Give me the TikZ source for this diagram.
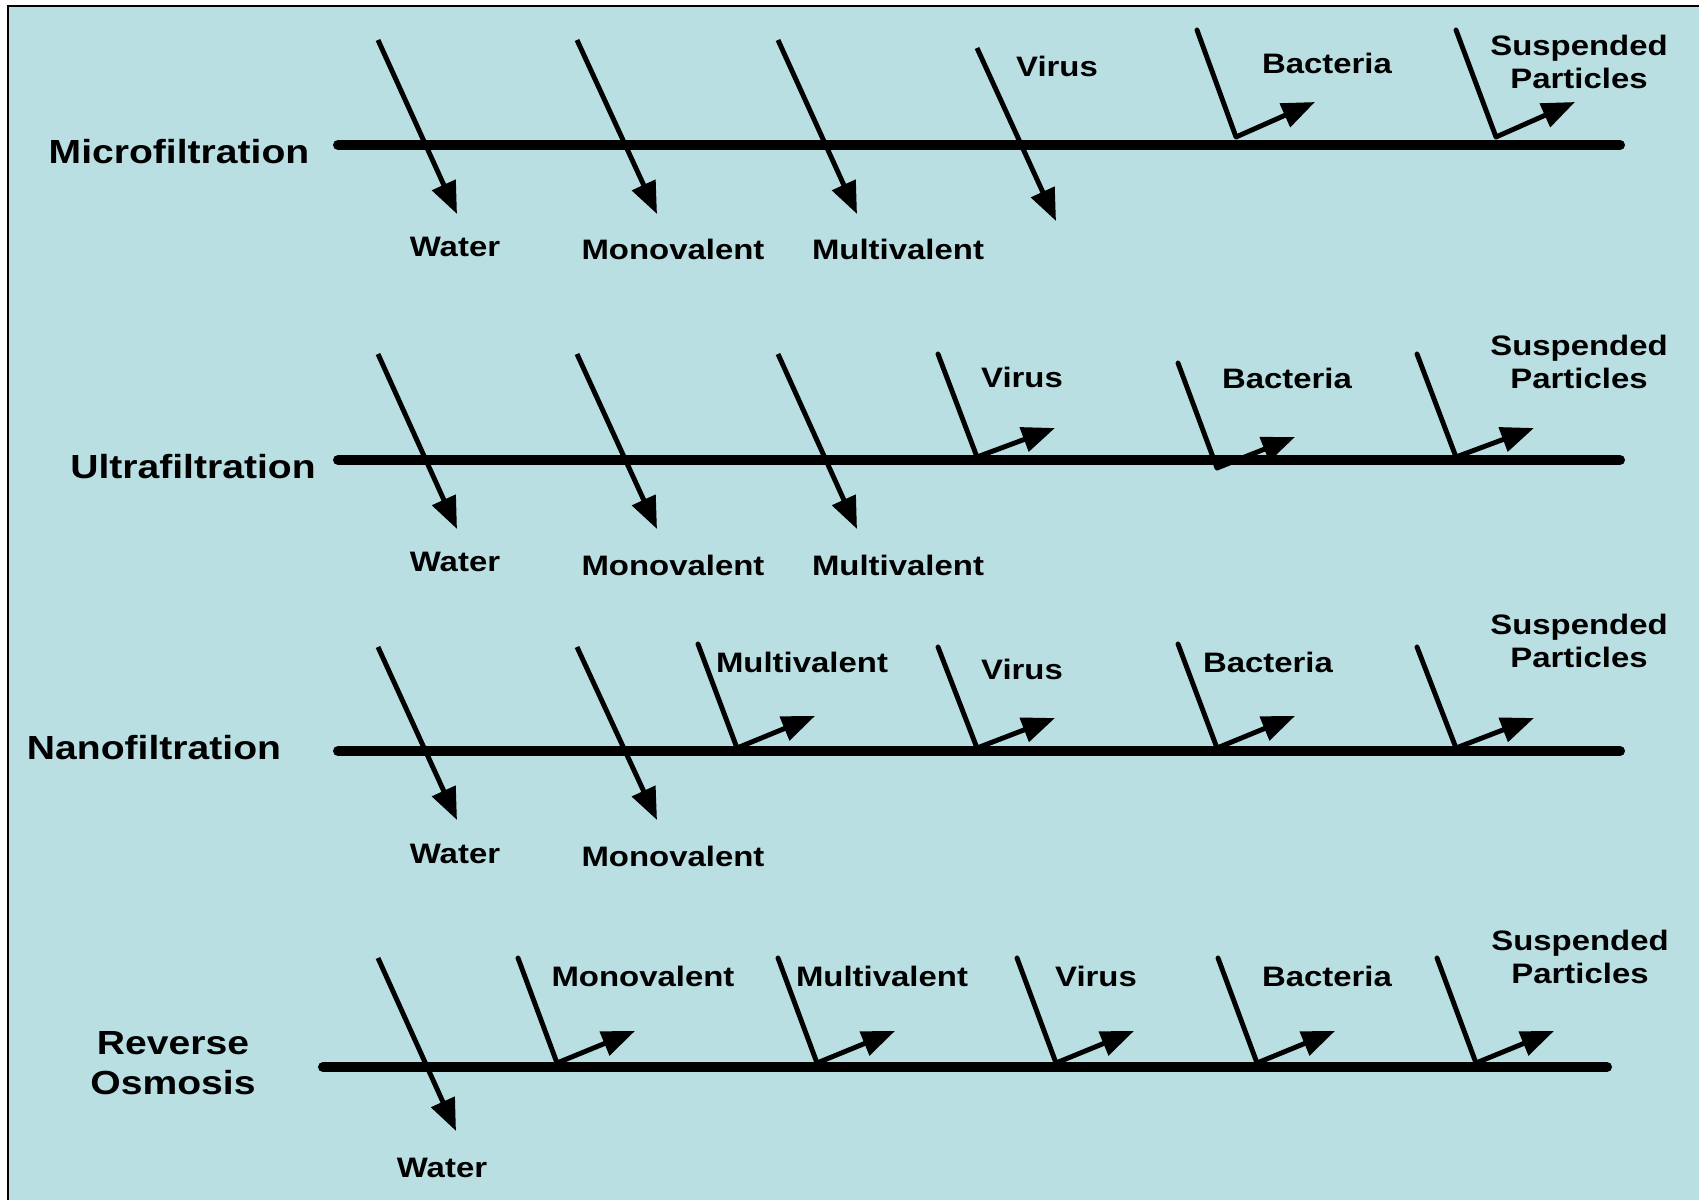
\documentclass[tikz,border=0pt]{standalone}
\usepackage{fontspec}
\setmainfont{Liberation Sans}
\newfontfamily\widesans{Liberation Sans}[FakeStretch=1.17]
\usetikzlibrary{arrows.meta}
\definecolor{tankblue}{RGB}{186,223,227}
\tikzset{
    rowlbl/.style={font=\widesans\fontsize{9.5}{11.4}\selectfont\bfseries, align=center, inner sep=0pt},
    partlbl/.style={font=\widesans\fontsize{8}{9.4}\selectfont\bfseries, align=center, inner sep=0pt},
    membrane/.style={line width=2.85pt, line cap=round},
    passarr/.style={-{Triangle[length=0.32cm, width=0.25cm]}, line width=1.4pt},
    rejline/.style={line width=1.4pt, line cap=round},
    rejarr/.style={-{Triangle[length=0.33cm, width=0.25cm]}, line width=1.4pt}
}
\begin{document}
\begin{tikzpicture}[x=0.01cm, y=-0.01cm]
    \useasboundingbox (0,0) rectangle (1699,1200);
    % background panel, open at right and bottom
    \fill[tankblue] (8,6) rectangle (1699,1200);
    \draw[line width=0.6pt] (8,1200) -- (8,6) -- (1699,6);

    % === Microfiltration ===
    \node[rowlbl] (mfl) at (179,152) {Microfiltration};
    \coordinate (mfa) at (338,145);
    \coordinate (mfb) at (1620,145);
    \draw[membrane] (mfa) -- (mfb);
    \coordinate (mfw1) at (378,40);   \coordinate (mfw2) at (457,214);
    \coordinate (mfm1) at (577,40);   \coordinate (mfm2) at (657,214);
    \coordinate (mfu1) at (778,40);   \coordinate (mfu2) at (857,214);
    \coordinate (mfv1) at (977,48);   \coordinate (mfv2) at (1056,221);
    \draw[passarr] (mfw1) -- (mfw2);
    \draw[passarr] (mfm1) -- (mfm2);
    \draw[passarr] (mfu1) -- (mfu2);
    \draw[passarr] (mfv1) -- (mfv2);
    \coordinate (mfb1) at (1197,30);  \coordinate (mfb2) at (1236,137);  \coordinate (mfb3) at (1315,102);
    \coordinate (mfs1) at (1456,30);  \coordinate (mfs2) at (1496,137);  \coordinate (mfs3) at (1575,102);
    \draw[rejline] (mfb1) -- (mfb2);  \draw[rejarr] (mfb2) -- (mfb3);
    \draw[rejline] (mfs1) -- (mfs2);  \draw[rejarr] (mfs2) -- (mfs3);
    \node[partlbl] (mfwl) at (455,247) {Water};
    \node[partlbl] (mfml) at (673,249) {Monovalent};
    \node[partlbl] (mful) at (898,249) {Multivalent};
    \node[partlbl] (mfvl) at (1057,66) {Virus};
    \node[partlbl] (mfbl) at (1327,63) {Bacteria};
    \node[partlbl] (mfsl) at (1579,62) {Suspended\\Particles};

    % === Ultrafiltration ===
    \node[rowlbl] (ufl) at (193,467) {Ultrafiltration};
    \coordinate (ufa) at (338,460);
    \coordinate (ufb) at (1620,460);
    \draw[membrane] (ufa) -- (ufb);
    \coordinate (ufw1) at (378,354);  \coordinate (ufw2) at (457,529);
    \coordinate (ufm1) at (577,354);  \coordinate (ufm2) at (657,529);
    \coordinate (ufu1) at (778,354);  \coordinate (ufu2) at (857,529);
    \draw[passarr] (ufw1) -- (ufw2);
    \draw[passarr] (ufm1) -- (ufm2);
    \draw[passarr] (ufu1) -- (ufu2);
    \coordinate (ufv1) at (938,354);  \coordinate (ufv2) at (977,457);  \coordinate (ufv3) at (1055,428);
    \coordinate (ufb1) at (1178,363); \coordinate (ufb2) at (1217,468); \coordinate (ufb3) at (1295,437);
    \coordinate (ufs1) at (1417,354); \coordinate (ufs2) at (1456,457); \coordinate (ufs3) at (1534,428);
    \draw[rejline] (ufv1) -- (ufv2);  \draw[rejarr] (ufv2) -- (ufv3);
    \draw[rejline] (ufb1) -- (ufb2);  \draw[rejarr] (ufb2) -- (ufb3);
    \draw[rejline] (ufs1) -- (ufs2);  \draw[rejarr] (ufs2) -- (ufs3);
    \node[partlbl] (ufwl) at (455,562) {Water};
    \node[partlbl] (ufml) at (673,565) {Monovalent};
    \node[partlbl] (uful) at (898,565) {Multivalent};
    \node[partlbl] (ufvl) at (1022,377) {Virus};
    \node[partlbl] (ufbl) at (1287,378) {Bacteria};
    \node[partlbl] (ufsl) at (1579,362) {Suspended\\Particles};

    % === Nanofiltration ===
    \node[rowlbl] (nfl) at (154,748) {Nanofiltration};
    \coordinate (nfa) at (338,751);
    \coordinate (nfb) at (1620,751);
    \draw[membrane] (nfa) -- (nfb);
    \coordinate (nfw1) at (378,647);  \coordinate (nfw2) at (457,820);
    \coordinate (nfm1) at (577,647);  \coordinate (nfm2) at (657,820);
    \draw[passarr] (nfw1) -- (nfw2);
    \draw[passarr] (nfm1) -- (nfm2);
    \coordinate (nfu1) at (698,644);  \coordinate (nfu2) at (737,748);  \coordinate (nfu3) at (815,716);
    \coordinate (nfv1) at (938,647);  \coordinate (nfv2) at (977,748);  \coordinate (nfv3) at (1055,718);
    \coordinate (nfb1) at (1178,644); \coordinate (nfb2) at (1217,748); \coordinate (nfb3) at (1295,716);
    \coordinate (nfs1) at (1417,647); \coordinate (nfs2) at (1456,748); \coordinate (nfs3) at (1534,718);
    \draw[rejline] (nfu1) -- (nfu2);  \draw[rejarr] (nfu2) -- (nfu3);
    \draw[rejline] (nfv1) -- (nfv2);  \draw[rejarr] (nfv2) -- (nfv3);
    \draw[rejline] (nfb1) -- (nfb2);  \draw[rejarr] (nfb2) -- (nfb3);
    \draw[rejline] (nfs1) -- (nfs2);  \draw[rejarr] (nfs2) -- (nfs3);
    \node[partlbl] (nfwl) at (455,854) {Water};
    \node[partlbl] (nfml) at (673,856) {Monovalent};
    \node[partlbl] (nful) at (802,662) {Multivalent};
    \node[partlbl] (nfvl) at (1022,669) {Virus};
    \node[partlbl] (nfbl) at (1268,662) {Bacteria};
    \node[partlbl] (nfsl) at (1579,641) {Suspended\\Particles};

    % === Reverse Osmosis ===
    \node[rowlbl] (rol) at (173,1063) {Reverse\\Osmosis};
    \coordinate (roa) at (323,1067);
    \coordinate (rob) at (1607,1067);
    \draw[membrane] (roa) -- (rob);
    \coordinate (row1) at (378,958);  \coordinate (row2) at (456,1131);
    \draw[passarr] (row1) -- (row2);
    \coordinate (rom1) at (518,958);  \coordinate (rom2) at (557,1063);  \coordinate (rom3) at (635,1031);
    \coordinate (rou1) at (778,958);  \coordinate (rou2) at (817,1063);  \coordinate (rou3) at (895,1031);
    \coordinate (rov1) at (1017,958); \coordinate (rov2) at (1056,1063); \coordinate (rov3) at (1134,1031);
    \coordinate (rob1) at (1218,958); \coordinate (rob2) at (1257,1063); \coordinate (rob3) at (1335,1031);
    \coordinate (ros1) at (1437,958); \coordinate (ros2) at (1476,1063); \coordinate (ros3) at (1554,1031);
    \draw[rejline] (rom1) -- (rom2);  \draw[rejarr] (rom2) -- (rom3);
    \draw[rejline] (rou1) -- (rou2);  \draw[rejarr] (rou2) -- (rou3);
    \draw[rejline] (rov1) -- (rov2);  \draw[rejarr] (rov2) -- (rov3);
    \draw[rejline] (rob1) -- (rob2);  \draw[rejarr] (rob2) -- (rob3);
    \draw[rejline] (ros1) -- (ros2);  \draw[rejarr] (ros2) -- (ros3);
    \node[partlbl] (rowl) at (442,1168) {Water};
    \node[partlbl] (roml) at (643,976) {Monovalent};
    \node[partlbl] (roul) at (882,976) {Multivalent};
    \node[partlbl] (rovl) at (1096,976) {Virus};
    \node[partlbl] (robl) at (1327,976) {Bacteria};
    \node[partlbl] (rosl) at (1580,957) {Suspended\\Particles};
\end{tikzpicture}
\end{document}
